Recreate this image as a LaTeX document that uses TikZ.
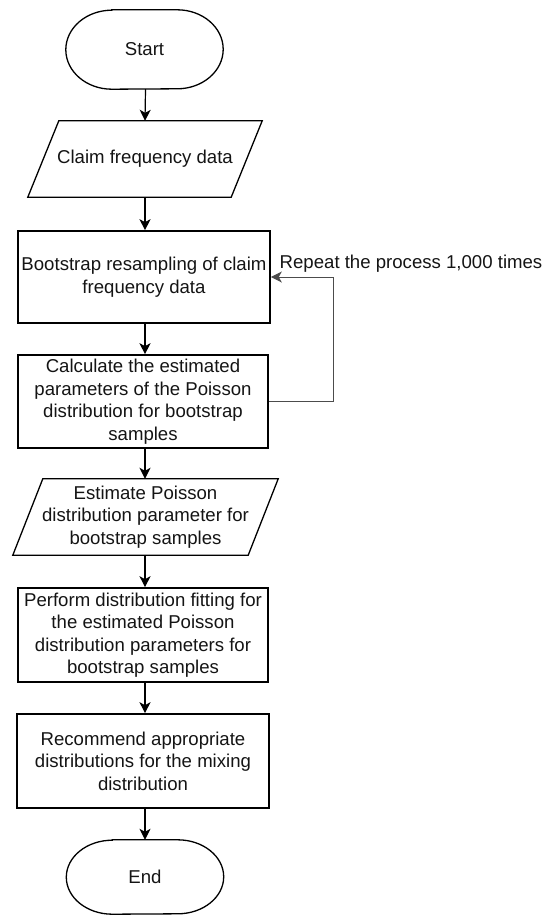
\documentclass[tikz,border=0pt]{standalone}
\usepackage{fontspec}
\setmainfont{Liberation Sans}
\usetikzlibrary{arrows.meta,calc}
\begin{document}
\begin{tikzpicture}[x=1pt,y=-1pt,
  txt/.style={font=\fontsize{18.6}{22.5}\selectfont, text=black!92, align=center, inner sep=0pt},
  procbox/.style={txt, draw, line width=1.6pt, minimum width=251pt, minimum height=93pt},
  shapebox/.style={txt, minimum width=#1, minimum height=76pt},
  termbox/.style={txt, minimum width=157pt, minimum height=#1},
  flow/.style={-{Stealth[length=11pt,width=11pt,inset=3pt]}, line width=#1},
  flow/.default=1.5pt,
  loopline/.style={-{Stealth[length=11pt,width=11pt,inset=3pt]}, line width=1pt, draw=black!70}
]
\useasboundingbox (0,0) rectangle (544,915);

% Terminals (drawn as stadium shapes with elliptic ends)
\node[termbox=79pt] (start) at (144.5,49.5) {Start};
\draw[line width=1.3pt] ([xshift=46pt]start.north west) -- ([xshift=-46pt]start.north east)
  arc[start angle=90, end angle=-90, x radius=46pt, y radius=39.5pt]
  -- ([xshift=46pt]start.south west)
  arc[start angle=270, end angle=90, x radius=46pt, y radius=39.5pt] -- cycle;

\node[termbox=74pt] (end) at (145,877) {End};
\draw[line width=1.3pt] ([xshift=46pt]end.north west) -- ([xshift=-46pt]end.north east)
  arc[start angle=90, end angle=-90, x radius=46pt, y radius=37pt]
  -- ([xshift=46pt]end.south west)
  arc[start angle=270, end angle=90, x radius=46pt, y radius=37pt] -- cycle;

% Input/output parallelograms
\node[shapebox=234pt] (claim) at (145,159) {Claim frequency data};
\draw[line width=1.3pt] ([xshift=31pt]claim.north west) -- (claim.north east)
  -- ([xshift=-31pt]claim.south east) -- (claim.south west) -- cycle;

\node[shapebox=265pt] (est) at (145.5,517) {Estimate Poisson\\distribution parameter for\\bootstrap samples};
\draw[line width=1.3pt] ([xshift=30pt]est.north west) -- (est.north east)
  -- ([xshift=-30pt]est.south east) -- (est.south west) -- cycle;

% Process boxes
\node[procbox, minimum width=252pt, minimum height=92pt] (boot) at (144,277)
  {Bootstrap resampling of claim\\frequency data};
\node[procbox, minimum width=250pt] (calc) at (143,401.5)
  {Calculate the estimated\\parameters of the Poisson\\distribution for bootstrap\\samples};
\node[procbox, minimum width=250pt, minimum height=94pt] (fit) at (143,635)
  {Perform distribution fitting for\\the estimated Poisson\\distribution parameters for\\bootstrap samples};
\node[procbox, minimum width=252pt, minimum height=94pt] (rec) at (143,761)
  {Recommend appropriate\\distributions for the mixing\\distribution};

% Connectors
\draw[flow=1.2pt] (start.south -| est.north) -- (claim.north);
\draw[flow=1.8pt] (claim.south) -- (claim.south |- boot.north);
\draw[flow=1.8pt] (boot.south -| claim.south) -- (claim.south |- calc.north);
\draw[flow=1.8pt] (calc.south -| claim.south) -- (est.north -| claim.south);
\draw[flow=1.2pt] (est.south -| claim.south) -- (claim.south |- fit.north);
\draw[flow=1.2pt] (fit.south -| claim.south) -- (claim.south |- rec.north);
\draw[flow=1.2pt] (rec.south -| claim.south) -- (end.north);

% Repetition loop
\coordinate (loopx) at (333,0);
\draw[loopline] (calc.east) -- (calc.east -| loopx) -- (boot.east -| loopx) -- (boot.east);
\node[txt, anchor=west] (repeat) at (279.5,264) {Repeat the process 1,000 times};
\end{tikzpicture}
\end{document}
